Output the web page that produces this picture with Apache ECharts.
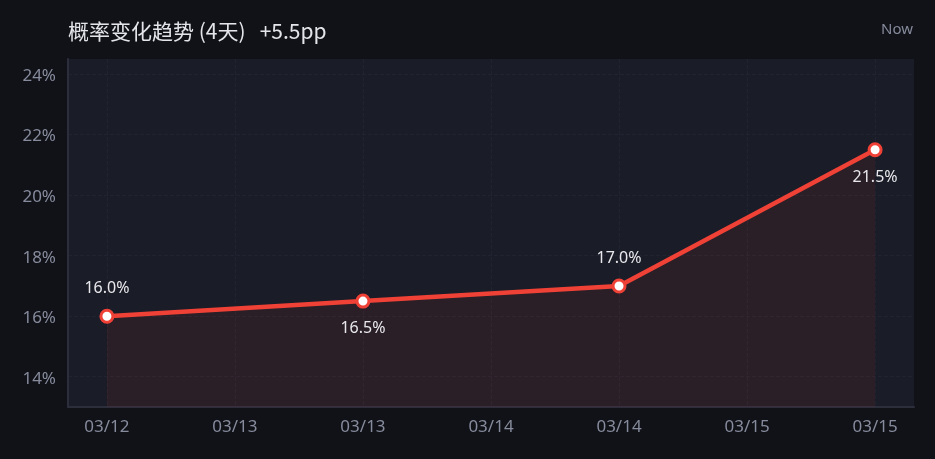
<!DOCTYPE html>
<html>
<head>
<meta charset="utf-8">
<script src="https://cdn.jsdelivr.net/npm/echarts@6/dist/echarts.min.js"></script>
<style>
  html, body { margin: 0; padding: 0; background: #111217; }
  #chart { width: 935px; height: 459px; }
</style>
</head>
<body>
<div id="chart"></div>
<script>
// 4 daily points, x = day index
const dayIndex = [0, 1, 2, 3];
const probability = [16.0, 16.5, 17.0, 21.5];
// ticks every half day, labels as shown on the axis
const tickValues = [0, 0.5, 1, 1.5, 2, 2.5, 3];
const tickLabels = ['03/12', '03/13', '03/13', '03/14', '03/14', '03/15', '03/15'];
const yTicks = [14, 16, 18, 20, 22, 24];
// label above / below each point
const labelPos = ['top', 'bottom', 'top', 'bottom'];

const chart = echarts.init(document.getElementById('chart'));

const points = dayIndex.map((x, i) => ({
  value: [x, probability[i]],
  label: { position: labelPos[i] }
}));

const option = {
  backgroundColor: '#111217',
  textStyle: { fontFamily: 'Noto Sans, Noto Sans CJK SC, sans-serif' },
  title: [{
    text: '概率变化趋势 (4天)   +5.5pp',
    left: 63,
    top: 16,
    textStyle: { color: '#e4e5ea', fontSize: 21, fontWeight: 'normal', fontFamily: 'Noto Sans CJK SC, Noto Sans, sans-serif' }
  }, {
    text: 'Now',
    right: 17,
    top: 17,
    textStyle: { color: '#858a9b', fontSize: 15, fontWeight: 'normal' }
  }],
  grid: {
    left: 68,
    right: 21,
    top: 59,
    bottom: 52,
    show: true,
    backgroundColor: '#1a1c27',
    borderWidth: 0
  },
  xAxis: {
    type: 'value',
    min: -0.152,
    max: 3.152,
    axisLine: { show: true, onZero: false, lineStyle: { color: '#2c2e3c', width: 2 } },
    axisTick: { show: false, customValues: tickValues },
    axisLabel: {
      customValues: tickValues,
      color: '#868b9d',
      fontSize: 17,
      margin: 12,
      formatter: v => tickLabels[Math.round(v * 2)]
    },
    splitLine: { show: true, lineStyle: { color: '#212330', type: 'dashed' } }
  },
  yAxis: {
    type: 'value',
    min: 13,
    max: 24.5,
    interval: 1,
    axisLine: { show: true, onZero: false, lineStyle: { color: '#2c2e3c', width: 2 } },
    axisTick: { show: false, customValues: yTicks },
    axisLabel: {
      customValues: yTicks,
      color: '#868b9d',
      fontSize: 17,
      margin: 12,
      formatter: v => '{a|' + v + '%}',
      rich: { a: { color: '#868b9d', fontSize: 17, padding: [4, 0, 0, 0] } }
    },
    splitLine: { show: true, lineStyle: { color: '#212330', type: 'dashed' } }
  },
  series: [{
    type: 'line',
    data: points,
    symbol: 'circle',
    symbolSize: 12,
    itemStyle: { color: '#ffffff', borderColor: '#ef4136', borderWidth: 3 },
    lineStyle: { color: '#ef4136', width: 4.5 },
    areaStyle: { color: 'rgba(239,65,54,0.11)', origin: 'start' },
    label: {
      show: true,
      color: '#e8e8ec',
      fontSize: 16,
      distance: 12,
      formatter: p => p.value[1].toFixed(1) + '%'
    }
  }]
};

chart.setOption(option);
</script>
</body>
</html>
